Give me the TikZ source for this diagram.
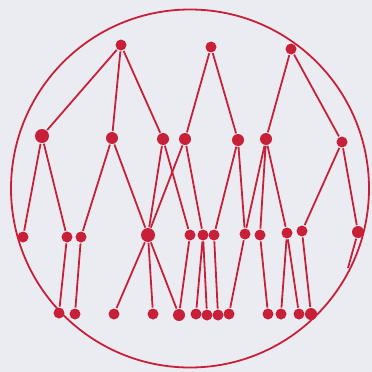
\documentclass[tikz,border=0pt]{standalone}
\usepackage{xcolor}
\usepackage{tikz}
\definecolor{inkred}{RGB}{200,32,56}
\definecolor{paper}{RGB}{234,236,242}

\begin{document}
\begin{tikzpicture}[x=1pt, y=-1pt, line width=1.8pt, draw=inkred,
  dot/.style={circle, fill=inkred, inner sep=0pt, minimum size=11pt},
  bigdot/.style={dot, minimum size=14pt}]
  \fill[paper] (0,0) rectangle (372,372);
  \draw (190,188.5) circle (179);

  % top row
  \node[dot] (a1) at (121,45) {};
  \node[dot] (a2) at (211,47) {};
  \node[dot] (a3) at (291,49) {};

  % second row
  \node[bigdot] (b1) at (42,136) {};
  \node[dot, minimum size=12pt] (b2) at (112,138) {};
  \node[dot, minimum size=12pt] (b3) at (163,139) {};
  \node[dot, minimum size=12pt] (b4) at (185,139) {};
  \node[dot, minimum size=12pt] (b5) at (238,140) {};
  \node[dot, minimum size=12pt] (b6) at (266,139) {};
  \node[dot] (b7) at (342,142) {};

  % third row
  \node[dot] (c1) at (23,237) {};
  \node[dot] (c2) at (67,237) {};
  \node[dot] (c3) at (81,237) {};
  \node[bigdot] (c4) at (148,235) {};
  \node[dot] (c5) at (190,235) {};
  \node[dot] (c6) at (203,235) {};
  \node[dot] (c7) at (214,235) {};
  \node[dot] (c8) at (245,234) {};
  \node[dot] (c9) at (260,235) {};
  \node[dot] (c10) at (287,233) {};
  \node[dot] (c11) at (302,231) {};
  \node[dot, minimum size=12pt] (c12) at (358,232) {};
  \coordinate (c12end) at (348,268);

  % bottom row
  \node[dot] (d1) at (59,313) {};
  \node[dot] (d2) at (75,314) {};
  \node[dot] (d3) at (114,314) {};
  \node[dot] (d4) at (153,314) {};
  \node[dot, minimum size=12pt] (d5) at (179,315) {};
  \node[dot] (d6) at (196,314) {};
  \node[dot] (d7) at (207,315) {};
  \node[dot] (d8) at (218,315) {};
  \node[dot] (d9) at (229,314) {};
  \node[dot] (d10) at (268,314) {};
  \node[dot] (d11) at (281,314) {};
  \node[dot] (d12) at (299,314) {};
  \node[dot, minimum size=12pt] (d13) at (311,314) {};

  % links
  \draw (a1) -- (b1) (a1) -- (b2) (a1) -- (b3);
  \draw (a2) -- (b4) (a2) -- (b5);
  \draw (a3) -- (b6) (a3) -- (b7);

  \draw (b1) -- (c1) (b1) -- (c2);
  \draw (b2) -- (c3) (b2) -- (c4);
  \draw (b3) -- (c4) (b3) -- (c5);
  \draw (b4) -- (c4) (b4) -- (c6);
  \draw (b5) -- (c7) (b5) -- (c8);
  \draw (b6) -- (c8) (b6) -- (c9) (b6) -- (c10);
  \draw (b7) -- (c11) (b7) -- (c12);

  \draw (c2) -- (d1) (c3) -- (d2);
  \draw (c4) -- (d3) (c4) -- (d4) (c4) -- (d5);
  \draw (c5) -- (d5);
  \draw (c6) -- (d6) (c6) -- (d7);
  \draw (c7) -- (d8) (c8) -- (d9);
  \draw (c9) -- (d10);
  \draw (c10) -- (d11) (c10) -- (d12);
  \draw (c11) -- (d13);
  \draw (c12) -- (c12end);
\end{tikzpicture}
\end{document}
